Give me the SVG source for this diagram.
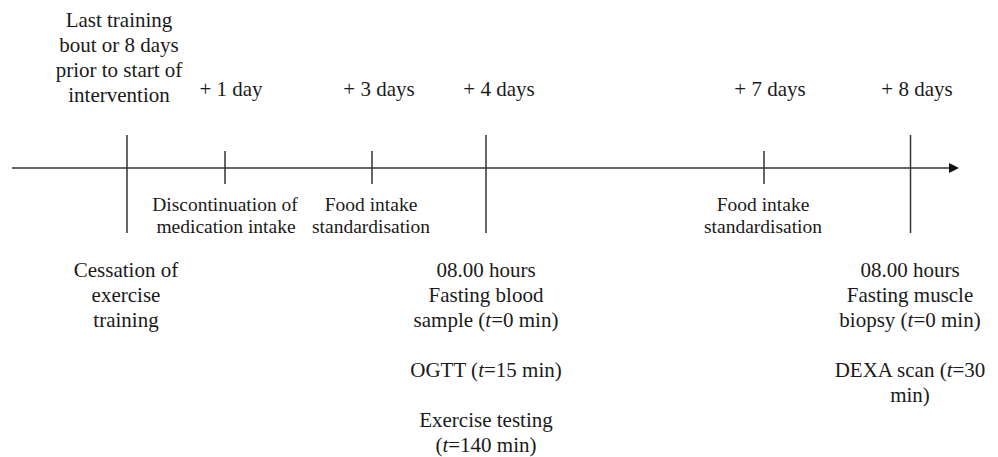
<svg xmlns="http://www.w3.org/2000/svg" width="998" height="457" viewBox="0 0 998 457">
<defs>
<style>
text{font-family:"Liberation Serif","Times New Roman",serif;font-size:21px;fill:#1a1a1a;text-anchor:middle}
text.sm{font-size:19.5px}
.ln{stroke:#333;stroke-width:1.5;fill:none}
.it{font-style:italic}
</style>
<marker id="arr" markerWidth="10" markerHeight="10" refX="0" refY="5" orient="auto" markerUnits="userSpaceOnUse">
<path d="M0,0 L10,5 L0,10 Z" fill="#111"/>
</marker>
</defs>
<rect width="998" height="457" fill="#fff"/>
<g id="connectors">
<line class="ln" x1="12" y1="168" x2="949" y2="168" marker-end="url(#arr)"/>
<line class="ln" x1="127" y1="135" x2="127" y2="233"/>
<line class="ln" x1="225" y1="151" x2="225" y2="184"/>
<line class="ln" x1="372" y1="151" x2="372" y2="184"/>
<line class="ln" x1="486" y1="135" x2="486" y2="233"/>
<line class="ln" x1="764" y1="151" x2="764" y2="184"/>
<line class="ln" x1="910.5" y1="135" x2="910.5" y2="233"/>
</g>
<g id="start-label">
<text x="119" y="27">Last training</text>
<text x="119" y="52">bout or 8 days</text>
<text x="119" y="77">prior to start of</text>
<text x="119" y="102">intervention</text>
</g>
<g id="day1-label"><text x="231" y="96">+ 1 day</text></g>
<g id="day3-label"><text x="379" y="96">+ 3 days</text></g>
<g id="day4-label"><text x="499" y="96">+ 4 days</text></g>
<g id="day7-label"><text x="770" y="96">+ 7 days</text></g>
<g id="day8-label"><text x="917" y="96">+ 8 days</text></g>
<g id="medication">
<text class="sm" x="225" y="211">Discontinuation of</text>
<text class="sm" x="226" y="233">medication intake</text>
</g>
<g id="food1">
<text class="sm" x="371" y="211">Food intake</text>
<text class="sm" x="371" y="233">standardisation</text>
</g>
<g id="food2">
<text class="sm" x="763" y="211">Food intake</text>
<text class="sm" x="763" y="233">standardisation</text>
</g>
<g id="cessation">
<text x="126" y="277">Cessation of</text>
<text x="126" y="302">exercise</text>
<text x="126" y="327">training</text>
</g>
<g id="day4-tests">
<text x="486" y="277">08.00 hours</text>
<text x="486" y="302">Fasting blood</text>
<text x="486" y="327">sample (<tspan class="it">t</tspan>=0 min)</text>
<text x="486" y="377">OGTT (<tspan class="it">t</tspan>=15 min)</text>
<text x="486" y="427">Exercise testing</text>
<text x="486" y="452">(<tspan class="it">t</tspan>=140 min)</text>
</g>
<g id="day8-tests">
<text x="910" y="277">08.00 hours</text>
<text x="910" y="302">Fasting muscle</text>
<text x="910" y="327">biopsy (<tspan class="it">t</tspan>=0 min)</text>
<text x="910" y="377">DEXA scan (<tspan class="it">t</tspan>=30</text>
<text x="910" y="402">min)</text>
</g>
</svg>
